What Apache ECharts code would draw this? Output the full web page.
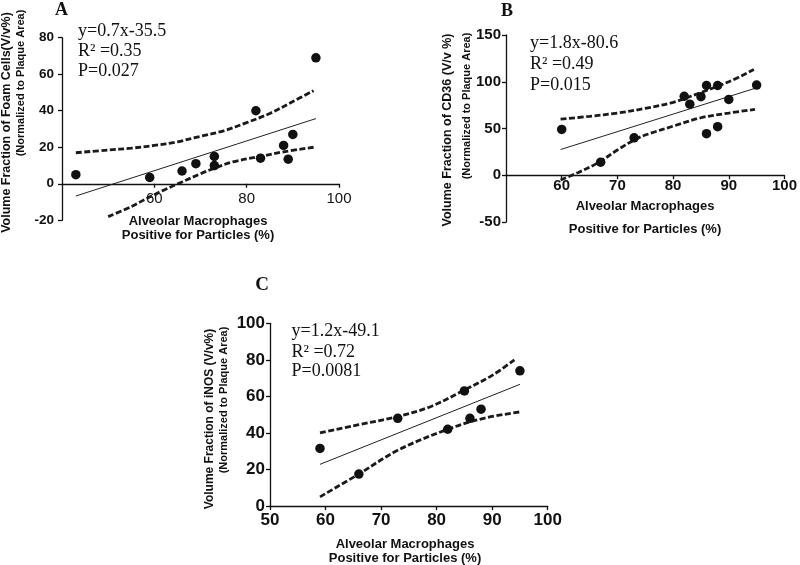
<!DOCTYPE html>
<html><head><meta charset="utf-8">
<script src="https://cdn.jsdelivr.net/npm/echarts@6/dist/echarts.min.js"></script>
<style>html,body{margin:0;padding:0;background:#fff}#c{width:800px;height:565px}</style>
</head><body><div id="c"></div>
<script>
// ---- Panel A: Foam cells ----
const xA = [43, 59, 66, 69, 73, 73, 82, 83, 88, 89, 90, 95];
const yA = [5, 3.5, 7, 11, 15, 10, 40, 14, 21, 13.5, 27, 69];
const fitAx = [43, 95];
const fitAy = [-6.7, 35.7];
const upAx = [43, 50, 55, 60, 65, 70, 75, 80, 85, 90, 94.5];
const upAy = [17, 18.5, 19.5, 21, 23, 26, 29, 33.5, 38.5, 45, 51];
const loAx = [50, 55, 58, 62, 66, 70, 73, 77, 83, 88, 94.5];
const loAy = [-18, -12.5, -8.5, -3.5, 1, 5.5, 8.5, 12, 15, 17.5, 20];
const xTicksA = [40, 100, 20];
const yTicksA = [-20, 80, 20];
const statsA = ['y=0.7x-35.5', 'R\u00B2 =0.35', 'P=0.027'];
const yTitleA = ['Volume Fraction of Foam Cells(V/v%)', '(Normalized to Plaque Area)'];

// ---- Panel B: CD36 ----
const xB = [60, 67, 73, 82, 83, 85, 86, 86, 88, 88, 90, 95];
const yB = [49, 14, 40, 84.5, 76, 84, 96, 44.5, 96, 52, 81, 96.5];
const fitBx = [59.8, 95];
const fitBy = [27.5, 93.5];
const upBx = [59.8, 65, 70, 75, 80, 85, 90, 94.5];
const upBy = [60, 63, 66.5, 71.5, 78, 88.5, 100, 113];
const loBx = [59.8, 63, 66.7, 70, 73.4, 76, 80, 85, 90, 94.7];
const loBy = [-5, 3, 14, 27, 39, 45, 52.5, 61.5, 66.5, 70.5];
const xTicksB = [50, 100, 10];
const yTicksB = [-50, 150, 50];
const statsB = ['y=1.8x-80.6', 'R\u00B2 =0.49', 'P=0.015'];
const yTitleB = ['Volume Fraction of CD36 (V/v %)', '(Normalized to Plaque Area)'];

// ---- Panel C: iNOS ----
const xC = [59, 66, 73, 82, 85, 86, 88, 95];
const yC = [31.5, 17.5, 48, 42, 63, 48, 53, 74];
const fitCx = [59, 95];
const fitCy = [22.8, 66.6];
const upCx = [59, 66, 73, 79, 85, 90, 94];
const upCy = [40, 44.5, 49, 54.5, 63.5, 71.5, 80];
const loCx = [59, 66, 73, 82, 88.5, 95];
const loCy = [5, 17.5, 30.5, 42, 48, 51.5];
const xTicksC = [50, 100, 10];
const yTicksC = [0, 100, 20];
const statsC = ['y=1.2x-49.1', 'R\u00B2 =0.72', 'P=0.0081'];
const yTitleC = ['Volume Fraction of iNOS (V/v%)', '(Normalized to Plaque Area)'];

const xTitle = ['Alveolar Macrophages', 'Positive for Particles (%)'];
const panelLetters = ['A', 'B', 'C'];

const SANS = '"Liberation Sans", Arial, sans-serif';
const SERIF = '"Liberation Serif", "Times New Roman", serif';
const zip = (a, b) => a.map((v, i) => [v, b[i]]);

const grids = [
  { left: 62, top: 37.7, width: 277, height: 182.6 },
  { left: 506, top: 35, width: 280.7, height: 187 },
  { left: 270, top: 323.3, width: 277.7, height: 182.7 }
];
const yTicks = [yTicksA, yTicksB, yTicksC];
// shift the x axis up so it crosses the y axis at value 0
function zeroOffset(idx) {
  const t = yTicks[idx];
  if (t[0] >= 0) return 0;
  return -grids[idx].height * (0 - t[0]) / (t[1] - t[0]);
}

function xAxisCfg(idx, t, fs, fw, margin, hideMin) {
  return {
    type: 'value', gridIndex: idx, min: t[0], max: t[1], interval: t[2],
    position: 'bottom', offset: zeroOffset(idx),
    axisLine: { show: true, onZero: false, lineStyle: { color: '#111', width: 1.3 } },
    axisTick: { show: true, length: 4, lineStyle: { color: '#111', width: 1.3 } },
    axisLabel: { show: true, showMinLabel: !hideMin, fontSize: fs, fontWeight: fw, fontFamily: SANS, color: '#111', margin: margin },
    splitLine: { show: false }
  };
}
function yAxisCfg(idx, t, fs, fw, margin) {
  return {
    type: 'value', gridIndex: idx, min: t[0], max: t[1], interval: t[2],
    axisLine: { show: true, onZero: false, lineStyle: { color: '#111', width: 1.3 } },
    axisTick: { show: true, length: 4, lineStyle: { color: '#111', width: 1.3 } },
    axisLabel: { show: true, fontSize: fs, fontWeight: fw, fontFamily: SANS, color: '#111', margin: margin },
    splitLine: { show: false }
  };
}
function scat(idx, xs, ys) {
  return { type: 'scatter', xAxisIndex: idx, yAxisIndex: idx, data: zip(xs, ys),
    symbol: 'circle', symbolSize: 9.5, itemStyle: { color: '#111', opacity: 1 }, z: 5 };
}
function fit(idx, xs, ys) {
  return { type: 'line', xAxisIndex: idx, yAxisIndex: idx, data: zip(xs, ys), symbol: 'none',
    lineStyle: { color: '#222', width: 1 }, z: 3 };
}
function band(idx, xs, ys) {
  return { type: 'line', xAxisIndex: idx, yAxisIndex: idx, data: zip(xs, ys), symbol: 'none', smooth: 0.35,
    lineStyle: { color: '#1a1a1a', width: 2.8, type: [6, 2.5] }, z: 4 };
}
function txt(s, x, y, font, align, rot) {
  return { type: 'text', x: x, y: y, rotation: rot || 0, silent: true,
    style: { text: s, font: font, fill: '#111', align: align || 'left', verticalAlign: 'middle',
             textAlign: align || 'left', textVerticalAlign: 'middle' } };
}
function stats(lines, x, ys) {
  return lines.map((s, i) => txt(s, x, ys[i], '18px ' + SERIF, 'left'));
}

const graphics = [].concat(
  [txt(panelLetters[0], 61.5, 10, 'bold 18px ' + SERIF, 'center'),
   txt(panelLetters[1], 507, 11, 'bold 18px ' + SERIF, 'center'),
   txt(panelLetters[2], 262, 285, 'bold 19px ' + SERIF, 'center')],
  stats(statsA, 78, [31.7, 51.7, 71.7]),
  stats(statsB, 530, [43.3, 64, 85]),
  stats(statsC, 291.5, [331.7, 352.7, 371.7]),
  [txt(yTitleA[0], 6.5, 122.5, 'bold 12.5px ' + SANS, 'center', Math.PI / 2),
   txt(yTitleA[1], 21, 83, 'bold 11px ' + SANS, 'center', Math.PI / 2),
   txt(yTitleB[0], 447.5, 130, 'bold 12.5px ' + SANS, 'center', Math.PI / 2),
   txt(yTitleB[1], 466.5, 106, 'bold 11px ' + SANS, 'center', Math.PI / 2),
   txt(yTitleC[0], 209.5, 419, 'bold 12px ' + SANS, 'center', Math.PI / 2),
   txt(yTitleC[1], 223.5, 400, 'bold 11px ' + SANS, 'center', Math.PI / 2)],
  [txt(xTitle[0], 198, 221, 'bold 13px ' + SANS, 'center'),
   txt(xTitle[1], 198, 235.5, 'bold 13px ' + SANS, 'center'),
   txt(xTitle[0], 645, 206, 'bold 13px ' + SANS, 'center'),
   txt(xTitle[1], 645, 229.5, 'bold 13px ' + SANS, 'center'),
   txt(xTitle[0], 405, 544, 'bold 13px ' + SANS, 'center'),
   txt(xTitle[1], 405, 558.5, 'bold 13px ' + SANS, 'center')]
);

const chart = echarts.init(document.getElementById('c'), null, { renderer: 'canvas' });
chart.setOption({
  animation: false,
  backgroundColor: '#fff',
  grid: grids,
  xAxis: [
    xAxisCfg(0, xTicksA, 15, 'normal', 8, true),
    xAxisCfg(1, xTicksB, 15, 'bold', 3, true),
    xAxisCfg(2, xTicksC, 17, 'bold', 6, false)
  ],
  yAxis: [
    yAxisCfg(0, yTicksA, 13.5, 'bold', 8),
    yAxisCfg(1, yTicksB, 15, 'bold', 5),
    yAxisCfg(2, yTicksC, 17, 'bold', 5)
  ],
  series: [
    fit(0, fitAx, fitAy), band(0, upAx, upAy), band(0, loAx, loAy), scat(0, xA, yA),
    fit(1, fitBx, fitBy), band(1, upBx, upBy), band(1, loBx, loBy), scat(1, xB, yB),
    fit(2, fitCx, fitCy), band(2, upCx, upCy), band(2, loCx, loCy), scat(2, xC, yC)
  ],
  graphic: graphics
});
</script></body></html>
